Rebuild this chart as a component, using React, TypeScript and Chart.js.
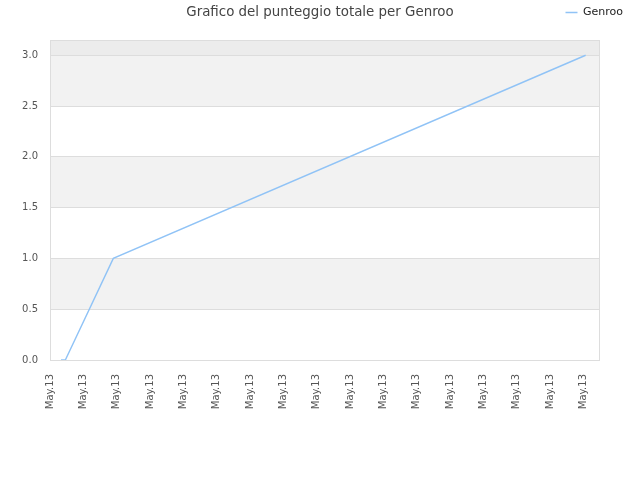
import { useEffect, useRef } from 'react'
import { Chart, registerables } from 'chart.js'

Chart.register(...registerables)

// posizioni lungo l'asse temporale (unità = una tacca) e punteggi
const times = [0.33, 0.46, 1.9, 16.07]
const scores = [0, 0, 1, 3]
const tickLabel = 'May.13'
const seriesName = 'Genroo'
const title = 'Grafico del punteggio totale per Genroo'

// bande alternate grigie + bordo del grafico
const bandsPlugin = {
  id: 'bands',
  beforeDraw(chart: any) {
    const { ctx, chartArea: a, scales } = chart
    const y = scales.y
    ctx.save()
    const ticks = y.ticks.map((t: any) => t.value)
    for (let i = 0; i < ticks.length - 1; i++) {
      if (i % 2 === 1) {
        ctx.fillStyle = '#f2f2f2'
        const top = y.getPixelForValue(ticks[i + 1])
        const bot = y.getPixelForValue(ticks[i])
        ctx.fillRect(a.left, top, a.right - a.left, bot - top)
      }
    }
    const last = y.getPixelForValue(ticks[ticks.length - 1])
    ctx.fillStyle = '#ececec'
    ctx.fillRect(a.left, a.top, a.right - a.left, last - a.top)
    ctx.restore()
  },
  afterDatasetsDraw(chart: any) {
    const { ctx, chartArea: a } = chart
    ctx.save()
    ctx.strokeStyle = '#dddddd'
    ctx.lineWidth = 1
    ctx.strokeRect(a.left + 0.5, a.top + 0.5, a.right - a.left - 1, a.bottom - a.top)
    ctx.restore()
  },
}

export default function App() {
  const canvasRef = useRef<HTMLCanvasElement | null>(null)
  const chartRef = useRef<Chart | null>(null)

  useEffect(() => {
    document.body.style.margin = '0'
    const ctx = canvasRef.current?.getContext('2d')
    if (!ctx) return

    Chart.defaults.font.family = "'DejaVu Sans', sans-serif"
    Chart.defaults.color = '#555'

    chartRef.current?.destroy()
    chartRef.current = new Chart(ctx, {
      type: 'line',
      data: {
        datasets: [
          {
            label: seriesName,
            data: times.map((t, i) => ({ x: t, y: scores[i] })),
            borderColor: '#90c3f6',
            backgroundColor: '#90c3f6',
            borderWidth: 1.4,
            pointRadius: 0,
            tension: 0,
            yAxisID: 'y',
          },
        ],
      },
      options: {
        animation: false,
        responsive: false,
        layout: { padding: { left: 10, right: 10, bottom: 0 } },
        scales: {
          x: {
            type: 'linear',
            min: 0,
            max: 16.5,
            grid: { display: false },
            border: { display: false },
            ticks: {
              stepSize: 1,
              includeBounds: false,
              autoSkip: false,
              minRotation: 90,
              maxRotation: 90,
              padding: 6,
              font: { size: 10 },
              color: '#555',
              callback: () => tickLabel,
            },
            afterFit: (s: any) => {
              s.height = 120
            },
          },
          y: {
            min: 0,
            max: 3.15,
            grid: { color: '#dddddd', drawTicks: false },
            border: { display: false },
            ticks: {
              stepSize: 0.5,
              includeBounds: false,
              padding: 12,
              font: { size: 10 },
              color: '#555',
              callback: (v: any) => Number(v).toFixed(1),
            },
            afterFit: (s: any) => {
              s.width = 40
            },
          },
          // spazio vuoto a destra del grafico
          yRight: {
            position: 'right',
            grid: { display: false },
            border: { display: false },
            ticks: { display: false },
            afterFit: (s: any) => {
              s.width = 30
            },
          },
        },
        plugins: {
          legend: {
            position: 'top',
            align: 'end',
            weight: 3000,
            labels: {
              boxWidth: 12,
              boxHeight: 0,
              padding: 7,
              color: '#222',
              font: { size: 11 },
            },
          },
          title: {
            display: true,
            text: title,
            color: '#444',
            font: { size: 13.4, weight: 'normal' },
            padding: { top: -23.7, bottom: 19.62 },
          },
          tooltip: { enabled: false },
        },
      },
      plugins: [bandsPlugin],
    })

    return () => chartRef.current?.destroy()
  }, [])

  return <canvas ref={canvasRef} width={640} height={480} style={{ display: 'block' }} />
}
